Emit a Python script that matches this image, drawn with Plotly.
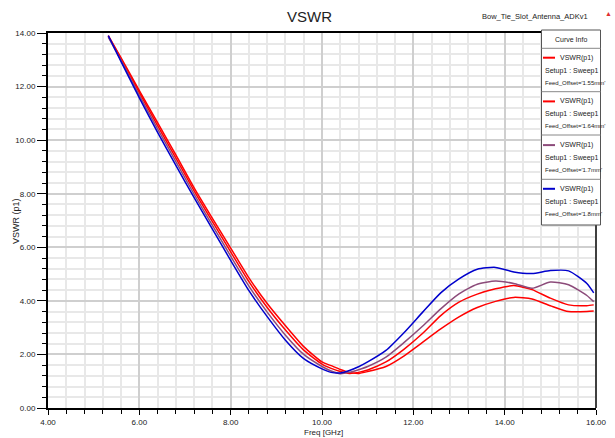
import plotly.graph_objects as go

# ---------------- data ----------------
freq = [5.32, 5.6, 6.0, 6.4, 6.8, 7.2, 7.6, 8.0, 8.4, 8.8, 9.2, 9.6, 10.0, 10.2,
        10.4, 10.6, 10.8, 11.0, 11.4, 11.8, 12.2, 12.6, 13.0, 13.4, 13.8, 14.2,
        14.6, 15.0, 15.4, 15.8, 15.95]

vswr_155 = [13.90, 13.07, 11.85, 10.65, 9.45, 8.22, 7.08, 5.97, 4.86, 3.90, 3.07,
            2.29, 1.72, 1.58, 1.44, 1.33, 1.29, 1.36, 1.55, 1.95, 2.45, 2.95,
            3.40, 3.75, 3.98, 4.13, 4.07, 3.82, 3.60, 3.60, 3.62]
vswr_164 = [13.88, 13.03, 11.77, 10.54, 9.33, 8.11, 6.96, 5.83, 4.72, 3.75, 2.91,
            2.16, 1.64, 1.48, 1.36, 1.29, 1.33, 1.42, 1.72, 2.20, 2.78, 3.45,
            3.95, 4.25, 4.45, 4.57, 4.42, 4.10, 3.85, 3.82, 3.85]
vswr_17 = [13.85, 12.98, 11.67, 10.42, 9.20, 7.98, 6.82, 5.67, 4.55, 3.58, 2.72,
           2.00, 1.55, 1.38, 1.28, 1.33, 1.43, 1.55, 1.90, 2.45, 3.05, 3.70,
           4.26, 4.62, 4.74, 4.65, 4.47, 4.70, 4.60, 4.20, 3.97]
vswr_18 = [13.90, 12.93, 11.58, 10.29, 9.06, 7.85, 6.68, 5.51, 4.38, 3.41, 2.53,
           1.84, 1.46, 1.33, 1.31, 1.40, 1.54, 1.72, 2.15, 2.82, 3.57, 4.30,
           4.82, 5.18, 5.25, 5.08, 5.02, 5.13, 5.12, 4.65, 4.30]

series_names = ["Feed_Offset='1.55mm'", "Feed_Offset='1.64mm'",
                "Feed_Offset='1.7mm'", "Feed_Offset='1.8mm'"]
series_values = [vswr_155, vswr_164, vswr_17, vswr_18]
series_colors = ["#ff0000", "#ff0000", "#8c4b7a", "#0000cc"]

x_ticks = [4, 6, 8, 10, 12, 14, 16]
y_ticks = [0, 2, 4, 6, 8, 10, 12, 14]

# ---------------- geometry ----------------
W, H = 615, 438
L, R, T, B = 48, 596, 33, 408   # plot area in pixels


def px(x):
    return (x - L) / (R - L)


def py(y):
    return (B - y) / (B - T)


FONT = "Liberation Sans, Arial, sans-serif"

fig = go.Figure()
for name, vals, col in zip(series_names, series_values, series_colors):
    fig.add_trace(go.Scatter(x=freq, y=vals, mode="lines", name=name,
                             line=dict(color=col, width=1.5, shape="spline", smoothing=0.6),
                             showlegend=False))

fig.update_layout(
    width=W, height=H,
    margin=dict(l=L, r=W - R, t=T, b=H - B, autoexpand=False),
    paper_bgcolor="white", plot_bgcolor="white",
    font=dict(family=FONT, size=8, color="black"),
    xaxis=dict(range=[4, 16], tickvals=x_ticks, tickformat=".2f",
               showgrid=True, gridcolor="#cfcfcf", gridwidth=1.5,
               showline=True, linecolor="black", linewidth=2, mirror=True,
               ticks="outside", ticklen=5, tickcolor="black", tickwidth=1,
               zeroline=False, automargin=False,
               tickfont=dict(family=FONT, size=8, color="#222"),
               minor=dict(dtick=0.4, tick0=4, showgrid=True, gridcolor="#e8e8e8",
                          gridwidth=1.5, ticks="outside", ticklen=4, tickcolor="black")),
    yaxis=dict(range=[0, 14], tickvals=y_ticks, tickformat=".2f",
               showgrid=True, gridcolor="#cfcfcf", gridwidth=1.5,
               showline=True, linecolor="black", linewidth=2,
               ticks="outside", ticklen=9, tickcolor="black", tickwidth=1,
               zeroline=False, automargin=False,
               tickfont=dict(family=FONT, size=8, color="#222"),
               minor=dict(dtick=0.4, tick0=0, showgrid=True, gridcolor="#e8e8e8",
                          gridwidth=1.5, ticks="outside", ticklen=4, tickcolor="black")),
)

shapes = []
annotations = []

# right border of plot area
shapes.append(dict(type="line", xref="paper", yref="paper", x0=1, x1=1, y0=0, y1=1,
                   line=dict(color="#404040", width=2)))

# titles
annotations.append(dict(text="VSWR", xref="paper", yref="paper", x=px(309), y=py(16),
                        xanchor="center", yanchor="middle", showarrow=False,
                        font=dict(family=FONT, size=15, color="#222")))
annotations.append(dict(text="Bow_Tie_Slot_Antenna_ADKv1", xref="paper", yref="paper",
                        x=px(590), y=py(16), xanchor="right", yanchor="middle", showarrow=False,
                        font=dict(family=FONT, size=7.5, color="#222")))
annotations.append(dict(text="▲", xref="paper", yref="paper", x=px(608), y=py(13),
                        xanchor="center", yanchor="middle", showarrow=False,
                        font=dict(size=7, color="#e03030")))
annotations.append(dict(text="Freq [GHz]", xref="paper", yref="paper", x=px(323), y=py(432),
                        xanchor="center", yanchor="middle", showarrow=False,
                        font=dict(family=FONT, size=8, color="#222")))
annotations.append(dict(text="VSWR (p1)", xref="paper", yref="paper", x=px(16), y=py(221),
                        xanchor="center", yanchor="middle", showarrow=False, textangle=-90,
                        font=dict(family=FONT, size=9, color="#222")))

# legend box ("Curve Info")
bx0, bx1, by0, by1 = 541.5, 600.5, 30, 225
shapes.append(dict(type="rect", xref="paper", yref="paper", x0=px(bx0), x1=px(bx1),
                   y0=py(by1), y1=py(by0), fillcolor="white",
                   line=dict(color="#555555", width=1)))
annotations.append(dict(text="Curve Info", xref="paper", yref="paper", x=px(571), y=py(39),
                        xanchor="center", yanchor="middle", showarrow=False,
                        font=dict(family=FONT, size=7, color="#222")))
seps = [48.3, 91.7, 135.0, 179.3]
for s in seps:
    shapes.append(dict(type="line", xref="paper", yref="paper", x0=px(bx0), x1=px(bx1),
                       y0=py(s), y1=py(s), line=dict(color="#888888", width=1)))
for i, (name, col) in enumerate(zip(series_names, series_values and series_colors)):
    y0 = 57.7 + 43.7 * i
    shapes.append(dict(type="line", xref="paper", yref="paper", x0=px(543), x1=px(555),
                       y0=py(y0), y1=py(y0), line=dict(color=col, width=2)))
    annotations.append(dict(text="VSWR(p1)", xref="paper", yref="paper", x=px(558), y=py(y0),
                            xanchor="left", yanchor="middle", showarrow=False,
                            font=dict(family=FONT, size=7, color="#222")))
    annotations.append(dict(text="Setup1 : Sweep1", xref="paper", yref="paper", x=px(543),
                            y=py(y0 + 13), xanchor="left", yanchor="middle", showarrow=False,
                            font=dict(family=FONT, size=7, color="#222")))
    annotations.append(dict(text=name, xref="paper", yref="paper", x=px(542.5),
                            y=py(y0 + 25), xanchor="left", yanchor="middle", showarrow=False,
                            font=dict(family=FONT, size=6, color="#222")))

fig.update_layout(shapes=shapes, annotations=annotations)
fig.write_html("out.html")
